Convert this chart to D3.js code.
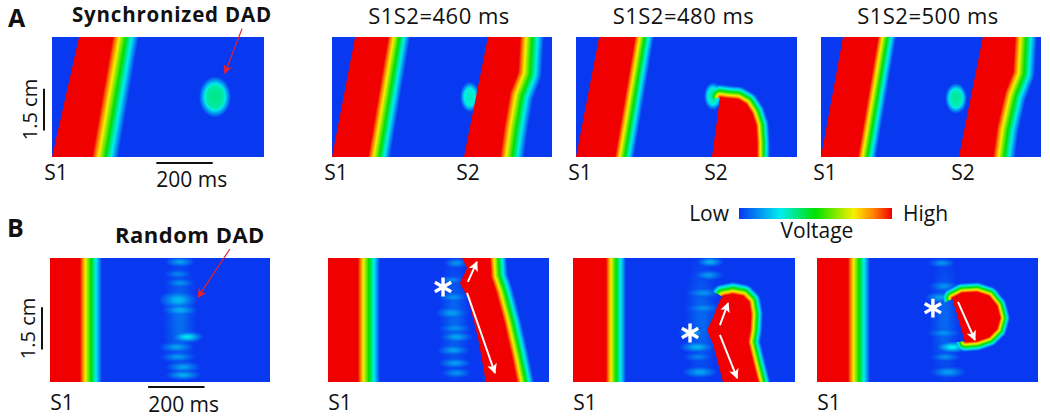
<!DOCTYPE html>
<html>
<head>
<meta charset="utf-8">
<script src="https://d3js.org/d3.v7.min.js"></script>
<style>
  body { margin: 0; background: #fff; }
  svg text { font-family: "Open Sans", Lato, sans-serif; fill: #111; }
</style>
</head>
<body>
<div id="figure"></div>
<script>
// voltage colour map, low -> high
var cmapStops = [0, 0.27, 0.5, 0.75, 0.88, 1];
var cmapColors = ["#0838f0", "#00eef0", "#00e000", "#f8f000", "#ff8000", "#f00000"];

// text
var rowLetters = ["A", "B"];
var rowTitles = ["Synchronized DAD", "Random DAD"];
var s1s2Titles = ["S1S2=460 ms", "S1S2=480 ms", "S1S2=500 ms"];

// space-time maps (time in ms, space in cm).
// a wave = red core between its activation front (lead, bottom->top)
// and the start of repolarisation (trail, top->bottom); rep = repolarisation time in ms
var a1Waves = [
  { lead: [[0, 0], [96, 4.3]], trail: [[215, 4.3], [142, 0]], rep: 92 }
];
var a2Waves = [
  { lead: [[0, 0], [82, 4.3]], trail: [[199, 4.3], [128, 0]], rep: 78 },
  { lead: [[468, 0], [553, 4.3]], trail: [[667, 4.3], [660, 3.05], [631, 2.3], [610, 1.05], [596, 0]], rep: 85 }
];
var a3Waves = [
  { lead: [[0, 0], [82, 4.3]], trail: [[209, 4.3], [138, 0]], rep: 67 },
  { lead: [[482, 0], [511, 2.14]], trail: [[511, 2.14], [539, 2.1], [574, 2.07], [603, 1.9], [624, 1.57], [638, 1.14], [642, 0.54], [642, 0]], rep: 46 }
];
var a4Waves = [
  { lead: [[0, 0], [78, 4.3]], trail: [[202, 4.3], [131, 0]], rep: 64 },
  { lead: [[489, 0], [574, 4.3]], trail: [[688, 4.3], [681, 3.05], [652, 2.3], [624, 1.05], [610, 0]], rep: 78 }
];
var b1Waves = [
  { lead: [[-40, 0], [-40, 4.4]], trail: [[106, 4.4], [106, 0]], rep: 78 }
];
var b2Waves = [
  { lead: [[-40, 0], [-40, 4.4]], trail: [[106, 4.4], [106, 0]], rep: 78 },
  { lead: [[560, 0], [532, 1.56], [496, 2.98], [468, 3.51], [493, 4.04], [475, 4.4]],
    trail: [[574, 4.4], [578, 3.72], [596, 3.19], [624, 2.13], [652, 0.89], [670, 0]], rep: 60 }
];
var b3Waves = [
  { lead: [[-40, 0], [-40, 4.4]], trail: [[117, 4.4], [117, 0]], rep: 71 },
  { lead: [[532, 0], [496, 1.35], [475, 1.84], [496, 2.27], [521, 2.91], [532, 3.05]],
    trail: [[532, 3.05], [567, 3.12], [603, 3.05], [624, 2.84], [631, 2.41], [628, 1.84], [621, 1.42], [638, 0.71], [656, 0]], rep: 43 }
];
var b4Waves = [
  { lead: [[-40, 0], [-40, 4.4]], trail: [[110, 4.4], [110, 0]], rep: 78 },
  { lead: [[525, 1.42], [479, 2.98]],
    trail: [[479, 2.98], [514, 3.16], [567, 3.19], [610, 3.05], [638, 2.7], [649, 2.27], [638, 1.88], [610, 1.6], [567, 1.45], [525, 1.42]], rep: 35 }
];

// DADs: [time ms, position cm, half width ms, half height cm, amplitude]
var a1Dads = [[578, 2.15, 57, 0.74, 0.38]];
var a2Dads = [[489, 2.15, 35, 0.55, 0.32]];
var a3Dads = [[486, 2.18, 32, 0.5, 0.34]];
var a4Dads = [[479, 2.1, 39, 0.55, 0.36]];
var b1Dads = [[460, 2.2, 60, 2.5, 0.08], [461, 4.26, 55, 0.2, 0.15], [454, 3.83, 50, 0.18, 0.11], [461, 3.51, 55, 0.2, 0.13],
  [454, 2.91, 70, 0.36, 0.19], [461, 2.55, 65, 0.25, 0.17], [486, 1.6, 60, 0.22, 0.25], [450, 1.24, 65, 0.22, 0.15],
  [454, 0.89, 65, 0.2, 0.14], [472, 0.53, 65, 0.22, 0.15], [472, 0.25, 65, 0.2, 0.17]];
var b2Dads = [[448, 2.2, 55, 2.5, 0.07], [455, 4.22, 45, 0.2, 0.13], [440, 3.62, 50, 0.18, 0.11], [445, 3.01, 55, 0.22, 0.13],
  [440, 2.45, 60, 0.26, 0.15], [450, 1.91, 60, 0.22, 0.13], [455, 1.6, 60, 0.22, 0.16], [445, 1.13, 60, 0.22, 0.15],
  [450, 0.67, 60, 0.2, 0.15], [455, 0.32, 55, 0.2, 0.13]];
var b3Dads = [[455, 2.2, 60, 2.5, 0.07], [486, 4.26, 50, 0.2, 0.17], [480, 3.79, 55, 0.2, 0.14], [461, 3.16, 65, 0.22, 0.13],
  [461, 2.62, 65, 0.22, 0.13], [425, 1.74, 55, 0.22, 0.15], [440, 1.24, 65, 0.22, 0.18], [445, 0.89, 55, 0.18, 0.11],
  [450, 0.35, 65, 0.22, 0.16]];
var b4Dads = [[452, 2.2, 55, 2.5, 0.07], [443, 4.22, 50, 0.18, 0.13], [450, 3.4, 55, 0.22, 0.13], [436, 3.0, 55, 0.22, 0.15],
  [450, 1.74, 60, 0.22, 0.13], [479, 1.24, 60, 0.22, 0.27], [455, 0.89, 55, 0.18, 0.13], [465, 0.35, 65, 0.22, 0.15]];

// stimulus labels: [name, time ms]
var a1Stims = [["S1", 0]];
var a2Stims = [["S1", 0], ["S2", 468]];
var a3Stims = [["S1", 0], ["S2", 482]];
var a4Stims = [["S1", 0], ["S2", 489]];
var bStims = [["S1", 0]];

// annotations: star = origin of triggered beat, arrows = [from, to] in [ms, cm]
var b2Star = [408, 3.37];
var b2Arrows = [[[496, 3.55], [528, 4.26]], [[493, 3.16], [592, 0.32]]];
var b3Star = [415, 1.74];
var b3Arrows = [[[521, 2.02], [550, 2.8]], [[521, 1.67], [582, 0.14]]];
var b4Star = [411, 2.62];
var b4Arrows = [[[500, 2.84], [560, 1.49]]];
var a1Pointer = [[674, 4.6], [613, 3.0]];
var b1Pointer = [[638, 4.72], [525, 3.01]];

// scale bars
var barMs = 200, barCm = 1.5;

(function () {
// layout
var W = 1050, H = 418;
var pxPerMs = 0.282;
var rowTop = [37, 258], rowH = [120, 124], rowCm = [4.3, 4.4];
var colLeft = [[52, 332, 576, 821], [50, 328, 573, 817]];
var colW = [[212, 220, 221, 220], [220, 221, 222, 221]];

var svg = d3.select("#figure").append("svg").attr("width", W).attr("height", H);
var defs = svg.append("defs");

function addMarker(id, color, len, wid) {
  defs.append("marker").attr("id", id).attr("viewBox", "0 0 10 10")
    .attr("refX", 9).attr("refY", 5)
    .attr("markerUnits", "userSpaceOnUse")
    .attr("markerWidth", len).attr("markerHeight", wid)
    .attr("orient", "auto")
    .append("path").attr("d", "M0,0 L10,5 L0,10 L2.5,5 Z").attr("fill", color);
}
addMarker("redHead", "#e8202a", 10, 9);
addMarker("whiteHead", "#ffffff", 11, 10);

var cmap = d3.scaleLinear().domain(cmapStops).range(cmapColors).clamp(true);
var lut = d3.range(256).map(function (i) { return d3.rgb(cmap(i / 255)); });

function segDist(px, py, a, b) {
  var dx = b[0] - a[0], dy = b[1] - a[1];
  var l2 = dx * dx + dy * dy;
  var t = l2 ? ((px - a[0]) * dx + (py - a[1]) * dy) / l2 : 0;
  t = Math.max(0, Math.min(1, t));
  var ex = a[0] + t * dx - px, ey = a[1] + t * dy - py;
  return Math.sqrt(ex * ex + ey * ey);
}
function lineDist(pts, px, py) {
  var m = Infinity;
  for (var k = 0; k < pts.length - 1; k++) m = Math.min(m, segDist(px, py, pts[k], pts[k + 1]));
  return m;
}
// push ends that sit on the panel edge a bit outside
function stretch(pts, h) {
  pts = pts.map(function (p) { return p.slice(); });
  function ext(i, j) {
    var p = pts[i], q = pts[j];
    if (Math.abs(p[1]) < 1 || Math.abs(p[1] - h) < 1) {
      var dx = p[0] - q[0], dy = p[1] - q[1], l = Math.sqrt(dx * dx + dy * dy) || 1;
      p[0] += dx / l * 30; p[1] += dy / l * 30;
    }
  }
  ext(0, 1); ext(pts.length - 1, pts.length - 2);
  return pts;
}

function drawMap(left, ptop, w, h, x, y, waves, dads, soft) {
  var shapes = waves.map(function (wv) {
    var lead = stretch(wv.lead.map(function (p) { return [x(p[0]), y(p[1])]; }), h);
    var trail = stretch(wv.trail.map(function (p) { return [x(p[0]), y(p[1])]; }), h);
    return { lead: lead, trail: trail, poly: lead.concat(trail), g: wv.rep * pxPerMs };
  });
  var blobs = dads.map(function (d) {
    return { cx: x(d[0]), cy: y(d[1]), rx: d[2] * pxPerMs, ry: y(0) - y(d[3]), a: d[4] };
  });
  var ss = 2, cw = w * ss, ch = h * ss;
  var canvas = document.createElement("canvas");
  canvas.width = cw; canvas.height = ch;
  var ctx = canvas.getContext("2d");
  var img = ctx.createImageData(cw, ch);
  for (var j = 0; j < ch; j++) {
    for (var i = 0; i < cw; i++) {
      var px = (i + 0.5) / ss, py = (j + 0.5) / ss, v = 0;
      for (var s = 0; s < shapes.length; s++) {
        var sh = shapes[s];
        if (d3.polygonContains(sh.poly, [px, py])) { v = 1; break; }
        var dt = lineDist(sh.trail, px, py);
        if (dt < sh.g && dt <= lineDist(sh.lead, px, py) + 0.3) v = Math.max(v, 1 - dt / sh.g);
      }
      if (v < 1) {
        for (var b = 0; b < blobs.length; b++) {
          var bl = blobs[b];
          var ux = (px - bl.cx) / bl.rx, uy = (py - bl.cy) / bl.ry;
          var r = Math.sqrt(ux * ux + uy * uy);
          var f = Math.max(0, Math.min(1, (1 - r) / soft));
          v = Math.max(v, bl.a * f * (0.8 + 0.2 * Math.max(0, 1 - r)));
        }
      }
      var c = lut[Math.round(Math.min(1, v) * 255)];
      var o = (j * cw + i) * 4;
      img.data[o] = c.r; img.data[o + 1] = c.g; img.data[o + 2] = c.b; img.data[o + 3] = 255;
    }
  }
  ctx.putImageData(img, 0, 0);
  svg.append("image").attr("x", left).attr("y", ptop).attr("width", w).attr("height", h)
    .attr("preserveAspectRatio", "none").attr("href", canvas.toDataURL());
}

var allWaves = [[a1Waves, a2Waves, a3Waves, a4Waves], [b1Waves, b2Waves, b3Waves, b4Waves]];
var allDads = [[a1Dads, a2Dads, a3Dads, a4Dads], [b1Dads, b2Dads, b3Dads, b4Dads]];
var allStims = [[a1Stims, a2Stims, a3Stims, a4Stims], [bStims, bStims, bStims, bStims]];
var stars = [[null, null, null, null], [null, b2Star, b3Star, b4Star]];
var whiteArrows = [[[], [], [], []], [[], b2Arrows, b3Arrows, b4Arrows]];
var pointers = [a1Pointer, b1Pointer];
var stimDx = [4, 12], stimDy = [23, 28];

var scales = [[], []];
for (var r = 0; r < 2; r++) {
  for (var c = 0; c < 4; c++) {
    var left = colLeft[r][c], w = colW[r][c], ptop = rowTop[r], h = rowH[r];
    var x = d3.scaleLinear().domain([0, w / pxPerMs]).range([left, left + w]);
    var y = d3.scaleLinear().domain([0, rowCm[r]]).range([ptop + h, ptop]);
    scales[r][c] = { x: x, y: y };
    var lx = d3.scaleLinear().domain(x.domain()).range([0, w]);
    var ly = d3.scaleLinear().domain(y.domain()).range([h, 0]);
    drawMap(left, ptop, w, h, lx, ly, allWaves[r][c], allDads[r][c], r === 0 ? 0.45 : 0.8);

    // stimulus labels
    svg.selectAll(null).data(allStims[r][c]).enter().append("text")
      .attr("x", function (d) { return x(d[1]) + stimDx[r]; })
      .attr("y", ptop + h + stimDy[r])
      .attr("text-anchor", "middle").attr("font-size", 21)
      .text(function (d) { return d[0]; });

    if (stars[r][c]) {
      svg.append("path").attr("d", d3.symbol(d3.symbolAsterisk, 250)())
        .attr("transform", "translate(" + x(stars[r][c][0]) + "," + y(stars[r][c][1]) + ")")
        .attr("stroke", "#fff").attr("stroke-width", 3.4).attr("fill", "none");
    }
    whiteArrows[r][c].forEach(function (a) {
      svg.append("line")
        .attr("x1", x(a[0][0])).attr("y1", y(a[0][1]))
        .attr("x2", x(a[1][0])).attr("y2", y(a[1][1]))
        .attr("stroke", "#fff").attr("stroke-width", 2).attr("marker-end", "url(#whiteHead)");
    });
  }

  // row letter and title
  svg.append("text").attr("x", r === 0 ? 8 : 7).attr("y", r === 0 ? 27 : 237)
    .attr("font-size", 25).attr("font-weight", "bold").text(rowLetters[r]);
  svg.append("text").attr("x", r === 0 ? 72 : 115).attr("y", r === 0 ? 22 : 243)
    .attr("font-size", r === 0 ? 20.5 : 22).attr("letter-spacing", r === 0 ? 0.8 : 0.5)
    .attr("font-weight", "bold").text(rowTitles[r]);

  // red pointer to the DAD
  var sc0 = scales[r][0], pt = pointers[r];
  svg.append("line")
    .attr("x1", sc0.x(pt[0][0])).attr("y1", sc0.y(pt[0][1]))
    .attr("x2", sc0.x(pt[1][0])).attr("y2", sc0.y(pt[1][1]))
    .attr("stroke", "#e8202a").attr("stroke-width", 1.2).attr("marker-end", "url(#redHead)");

  // scale bars on first panel
  var barStart = r === 0 ? 370 : 348;
  var by = rowTop[r] + rowH[r] + (r === 0 ? 6 : 5);
  svg.append("line").attr("x1", sc0.x(barStart)).attr("x2", sc0.x(barStart + barMs))
    .attr("y1", by).attr("y2", by).attr("stroke", "#111").attr("stroke-width", 2);
  svg.append("text").attr("x", sc0.x(barStart)).attr("y", r === 0 ? 187 : 412)
    .attr("font-size", 21).text(barMs + " ms");
  var cmStart = r === 0 ? 0.95 : 1.15;
  var bx = colLeft[r][0] - 8;
  svg.append("line").attr("x1", bx).attr("x2", bx)
    .attr("y1", sc0.y(cmStart)).attr("y2", sc0.y(cmStart + barCm))
    .attr("stroke", "#111").attr("stroke-width", 2);
  var cy = sc0.y(cmStart + barCm / 2);
  svg.append("text").attr("transform", "translate(" + (bx - 7) + "," + cy + ") rotate(-90)")
    .attr("text-anchor", "middle").attr("font-size", 20).text(barCm + " cm");
}

// S1S2 titles
s1s2Titles.forEach(function (t, i) {
  svg.append("text").attr("x", colLeft[0][i + 1] + colW[0][i + 1] / 2 - 3).attr("y", 23.5)
    .attr("text-anchor", "middle").attr("font-size", 22).attr("letter-spacing", 0.5).text(t);
});

// colour bar legend
var grad = defs.append("linearGradient").attr("id", "vgrad");
cmapStops.forEach(function (s, i) {
  grad.append("stop").attr("offset", s).attr("stop-color", cmapColors[i]);
});
svg.append("rect").attr("x", 739).attr("y", 208).attr("width", 153).attr("height", 11)
  .attr("fill", "url(#vgrad)");
svg.append("text").attr("x", 729).attr("y", 221).attr("text-anchor", "end").attr("font-size", 21).text("Low");
svg.append("text").attr("x", 903).attr("y", 221).attr("font-size", 21).text("High");
svg.append("text").attr("x", 817).attr("y", 238).attr("text-anchor", "middle").attr("font-size", 21).text("Voltage");
})();
</script>
</body>
</html>
